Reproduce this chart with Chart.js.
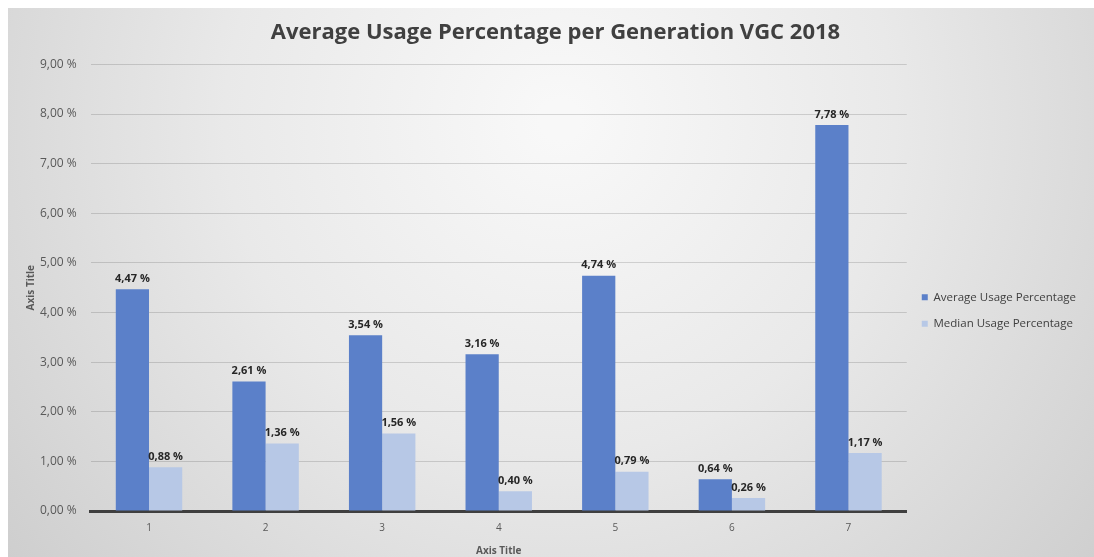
<!DOCTYPE html>
<html>
<head>
<meta charset="utf-8">
<script src="https://cdn.jsdelivr.net/npm/chart.js@4/dist/chart.umd.min.js"></script>
<style>
  html, body { margin: 0; padding: 0; background: #ffffff; }
  #wrap { width: 1094px; height: 557px; position: relative; }
</style>
</head>
<body>
<div id="wrap"><canvas id="c" width="1094" height="557"></canvas></div>
<script>
const categories = ['1', '2', '3', '4', '5', '6', '7'];
const averageUsage = [4.47, 2.61, 3.54, 3.16, 4.74, 0.64, 7.78];
const medianUsage = [0.88, 1.36, 1.56, 0.40, 0.79, 0.26, 1.17];
const seriesNames = ['Average Usage Percentage', 'Median Usage Percentage'];
const chartTitle = 'Average Usage Percentage per Generation VGC 2018';
const xAxisTitle = 'Axis Title';
const yAxisTitle = 'Axis Title';

const fmt = v => v.toFixed(2).replace('.', ',') + ' %';

const bgPlugin = {
  id: 'bg',
  beforeDraw(chart) {
    const ctx = chart.ctx;
    const w = chart.width, h = chart.height;
    ctx.save();
    ctx.fillStyle = '#ffffff';
    ctx.fillRect(0, 0, w, h);
    const g = ctx.createRadialGradient(560, 120, 20, 560, 120, 720);
    g.addColorStop(0, '#f8f8f8');
    g.addColorStop(0.45, '#e9e9e9');
    g.addColorStop(1, '#cdcdcd');
    ctx.fillStyle = g;
    ctx.fillRect(8, 8, w - 8, h - 8);
    ctx.restore();
  }
};

const legendShift = {
  id: 'legendShift',
  afterLayout(chart) {
    const lg = chart.legend;
    if (lg) { lg.top += 56; }
  }
};

const labelPlugin = {
  id: 'dlabels',
  afterDatasetsDraw(chart) {
    const ctx = chart.ctx;
    ctx.save();
    ctx.font = 'bold 11px "Open Sans", sans-serif';
    ctx.fillStyle = '#262626';
    ctx.textAlign = 'center';
    ctx.textBaseline = 'bottom';
    chart.data.datasets.forEach((ds, i) => {
      const meta = chart.getDatasetMeta(i);
      meta.data.forEach((el, j) => {
        ctx.fillText(fmt(ds.data[j]), el.x, el.y - 5);
      });
    });
    ctx.restore();
  }
};

new Chart(document.getElementById('c'), {
  type: 'bar',
  data: {
    labels: categories,
    datasets: [
      { label: seriesNames[0], data: averageUsage, backgroundColor: '#5b80c9', borderWidth: 0,
        categoryPercentage: 0.57, barPercentage: 1.0 },
      { label: seriesNames[1], data: medianUsage, backgroundColor: '#b7c8e6', borderWidth: 0,
        categoryPercentage: 0.57, barPercentage: 1.0 }
    ]
  },
  options: {
    responsive: false,
    animation: false,
    layout: { padding: { left: 25, right: 8, top: 8, bottom: 0 } },
    plugins: {
      title: {
        display: true,
        text: chartTitle,
        color: '#404040',
        font: { family: '"Open Sans", sans-serif', size: 22, weight: 'bold' },
        padding: { top: 12, bottom: 18 }
      },
      legend: {
        position: 'right',
        labels: {
          boxWidth: 6, boxHeight: 6,
          color: '#404040',
          font: { family: '"Open Sans", sans-serif', size: 11.5 },
          padding: 15
        }
      },
      tooltip: { enabled: false }
    },
    scales: {
      x: {
        grid: { display: false, drawTicks: false },
        border: { display: true, color: '#3f3f3f', width: 3 },
        ticks: { color: '#595959', font: { family: '"Open Sans", sans-serif', size: 10 }, padding: 11 },
        title: { display: true, text: xAxisTitle, color: '#595959',
          font: { family: '"Open Sans", sans-serif', size: 10, weight: 'bold' }, padding: { top: 0, bottom: 0 } }
      },
      y: {
        min: 0, max: 9,
        ticks: { stepSize: 1, color: '#595959', font: { family: '"Open Sans", sans-serif', size: 12 },
          padding: 14, callback: v => fmt(v) },
        grid: { color: 'rgba(0,0,0,0.14)', drawTicks: false },
        border: { display: false },
        title: { display: true, text: yAxisTitle, color: '#595959',
          font: { family: '"Open Sans", sans-serif', size: 10, weight: 'bold' }, padding: { top: 0, bottom: -11 } }
      }
    }
  },
  plugins: [bgPlugin, legendShift, labelPlugin]
});
</script>
</body>
</html>
